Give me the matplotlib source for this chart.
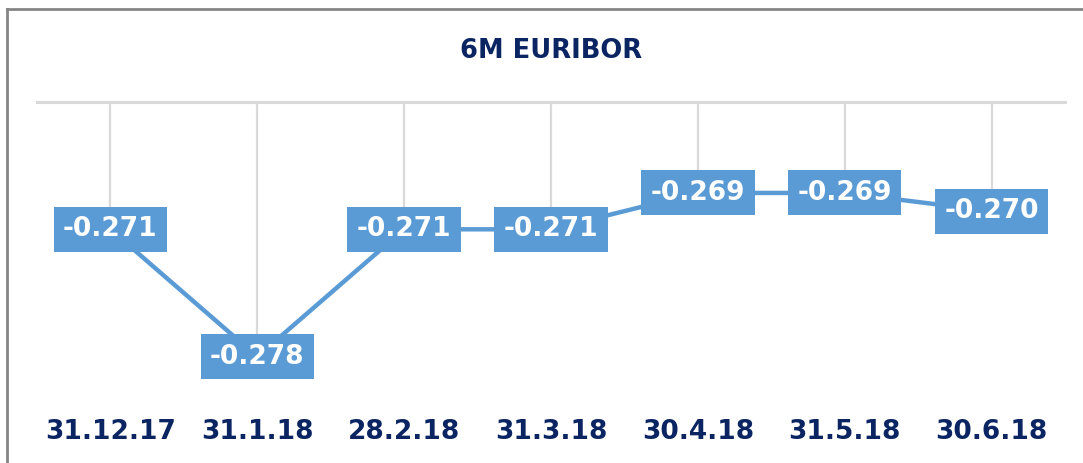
import matplotlib
matplotlib.use('Agg')
import matplotlib.pyplot as plt
from matplotlib.lines import Line2D

# Data
dates = ['31.12.17', '31.1.18', '28.2.18', '31.3.18', '30.4.18', '31.5.18', '30.6.18']
rates = [-0.271, -0.278, -0.271, -0.271, -0.269, -0.269, -0.270]

navy = '#0B2563'
blue = '#5B9BD5'
grid = '#D9D9D9'
y_top, y_bot = -0.264, -0.280

fig = plt.figure(figsize=(10.83, 4.63), dpi=100)
ax = fig.add_axes([37 / 1083, 1 - 393 / 463, 1028 / 1083, 291 / 463])

x = list(range(len(dates)))

# Lines from the top edge down to each point
ax.vlines(x, rates, y_top, color=grid, lw=1.6, zorder=1)
ax.axhline(y_top, color=grid, lw=2.2, zorder=1, clip_on=False)

ax.plot(x, rates, color=blue, lw=3.2, zorder=2, solid_capstyle='butt')

# Data labels
for xi, v in zip(x, rates):
    ax.text(xi, v, f'{v:.3f}', ha='center', va='center', fontsize=19,
            fontweight='bold', color='white', zorder=3,
            bbox=dict(boxstyle='square,pad=0.36', fc=blue, ec='none'))

ax.set_xlim(-0.5, len(dates) - 0.5)
ax.set_ylim(y_bot, y_top)
ax.set_xticks(x)
ax.set_xticklabels(dates, fontsize=19, fontweight='bold', color=navy)
ax.tick_params(axis='x', length=0, pad=19)
ax.set_yticks([])
for s in ax.spines.values():
    s.set_visible(False)

fig.text(551 / 1083, 1 - 51 / 463, '6M EURIBOR', ha='center', va='center',
         fontsize=18.5, fontweight='bold', color=navy)

# Outer frame (top and left edges visible)
fig.add_artist(Line2D([7 / 1083, 1], [1 - 9 / 463, 1 - 9 / 463],
                      transform=fig.transFigure, color='#858585', lw=2))
fig.add_artist(Line2D([7 / 1083, 7 / 1083], [0, 1 - 9 / 463],
                      transform=fig.transFigure, color='#858585', lw=2))

fig.savefig('out.png', dpi=100)
